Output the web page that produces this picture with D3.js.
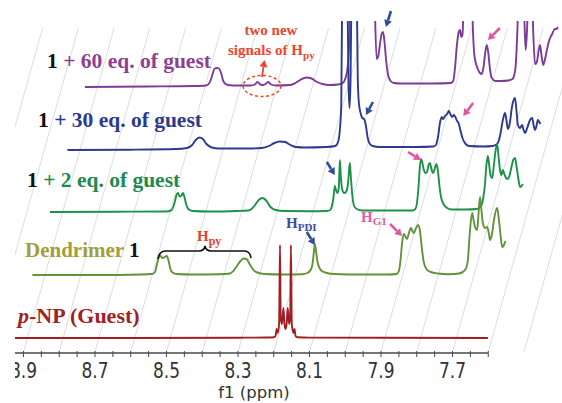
<!DOCTYPE html>
<html><head><meta charset="utf-8">
<script src="https://cdn.jsdelivr.net/npm/d3@7"></script>
<style>body{margin:0;background:#fff}svg{display:block}</style>
</head><body>
<svg id="c" width="562" height="403"></svg>
<script>
// ---------------- DATA ----------------
const tickValues = [8.9, 8.7, 8.5, 8.3, 8.1, 7.9, 7.7];
const tickLabels = ["8.9", "8.7", "8.5", "8.3", "8.1", "7.9", "7.7"];
const axisTitle = "f1 (ppm)";

// spectra: [ppm, intensity]
const specPNP = [[8.924,0],[8.60,0],[8.30,0.3],[8.22,0.5],[8.200,0.8],[8.195,2],[8.192,9],[8.189,5],[8.185,14],[8.1825,93],[8.1805,20],[8.177,14],[8.173,30],[8.170,14],[8.167,9],[8.164,14],[8.161,30],[8.157,14],[8.154,20],[8.152,93],[8.1495,14],[8.145,5],[8.142,9],[8.139,2],[8.134,0.8],[8.10,0.4],[7.90,0.2],[7.601,0]];

const specDend = [[8.924,0],[8.75,0],[8.62,0.5],[8.59,1],[8.581,3],[8.576,10],[8.571,17],[8.567,20],[8.563,18],[8.559,17],[8.554,18],[8.548,19],[8.543,14],[8.538,6],[8.532,2.5],[8.52,1],[8.48,0.5],[8.40,0.8],[8.371,1.5],[8.362,4],[8.352,9],[8.342,14],[8.333,16.5],[8.325,16],[8.318,12],[8.308,6],[8.295,2.5],[8.275,1],[8.22,0.5],[8.17,0.8],[8.155,2],[8.146,5],[8.141,10],[8.137,22],[8.134,31],[8.131,25],[8.127,14],[8.121,7],[8.112,3.5],[8.10,2],[8.08,1],[8.0,0.5],[7.93,0.5],[7.905,1],[7.899,4],[7.894,16],[7.890,32],[7.885,41],[7.880,38],[7.876,36],[7.871,42],[7.865,47],[7.861,44],[7.857,42],[7.851,47],[7.845,50],[7.840,44],[7.835,28],[7.830,14],[7.822,6],[7.810,3],[7.79,1.5],[7.76,0.8],[7.73,1.5],[7.712,6],[7.706,15],[7.700,45],[7.694,62],[7.690,55],[7.686,48],[7.680,45],[7.676,62],[7.672,78],[7.668,65],[7.664,52],[7.658,47],[7.652,48],[7.647,41],[7.644,35],[7.638,42],[7.633,55],[7.624,67],[7.619,55],[7.614,38],[7.610,28],[7.605,30],[7.601,34]];

const spec2eq = [[8.924,0],[8.75,0.3],[8.60,0.5],[8.585,1.5],[8.579,5],[8.574,11],[8.570,17],[8.566,19],[8.562,16],[8.559,15.5],[8.555,17],[8.552,19],[8.547,14],[8.543,8],[8.537,3],[8.525,1],[8.48,0.5],[8.40,1],[8.370,1.5],[8.360,3],[8.350,7],[8.340,12],[8.329,14],[8.318,11],[8.307,5],[8.292,2],[8.27,1],[8.20,0.8],[8.15,1],[8.140,2],[8.135,6],[8.131,14],[8.127,26],[8.124,22],[8.120,19],[8.116,24],[8.113,52],[8.110,34],[8.106,22],[8.101,19],[8.096,20],[8.091,26],[8.088,38],[8.085,49],[8.082,34],[8.078,16],[8.073,6],[8.066,3],[8.05,1.5],[7.95,1.5],[7.91,1.5],[7.902,3],[7.897,10],[7.893,25],[7.889,46],[7.886,53],[7.882,49],[7.878,42],[7.873,39],[7.869,40],[7.865,47],[7.861,49],[7.857,43],[7.852,39],[7.847,44],[7.843,48],[7.839,42],[7.835,28],[7.830,15],[7.823,8],[7.813,4],[7.80,2.5],[7.76,2.5],[7.73,3],[7.718,6],[7.712,14],[7.707,28],[7.703,47],[7.699,56],[7.695,46],[7.691,36],[7.687,34],[7.683,44],[7.678,60],[7.673,68],[7.669,55],[7.665,42],[7.661,37],[7.657,42],[7.653,38],[7.648,34],[7.643,33],[7.638,37],[7.633,45],[7.628,52],[7.623,54],[7.619,46],[7.614,34],[7.609,25],[7.605,26],[7.601,28]];

const spec30eq = [[8.924,0],[8.75,0.3],[8.62,1],[8.59,2],[8.575,5],[8.565,10],[8.555,12.5],[8.545,11],[8.535,6],[8.52,2.5],[8.50,1.5],[8.42,1.5],[8.38,2],[8.36,4],[8.345,7],[8.33,8.5],[8.315,8],[8.30,5],[8.285,3],[8.26,2.5],[8.20,3],[8.175,4],[8.167,8],[8.162,20],[8.158,45],[8.155,170],[8.150,200],[8.145,200],[8.141,170],[8.138,70],[8.135,42],[8.132,70],[8.129,170],[8.124,200],[8.120,200],[8.115,170],[8.112,75],[8.109,48],[8.104,37],[8.099,32],[8.094,31],[8.089,24],[8.084,12],[8.078,6],[8.07,4],[8.05,3],[7.95,3],[7.90,3.5],[7.893,5],[7.887,14],[7.882,27],[7.877,33],[7.873,31],[7.868,34],[7.862,36],[7.857,39],[7.853,36],[7.848,33],[7.843,35],[7.839,33],[7.834,29],[7.830,27],[7.825,20],[7.818,11],[7.810,6],[7.80,4],[7.76,3.5],[7.735,4],[7.722,6],[7.714,14],[7.706,30],[7.700,37],[7.696,30],[7.692,21],[7.687,26],[7.681,42],[7.676,50],[7.672,52],[7.668,40],[7.664,25],[7.658,22],[7.652,25],[7.648,20],[7.644,17],[7.638,22],[7.630,30],[7.624,32],[7.620,25],[7.616,20],[7.612,24],[7.608,30],[7.604,28],[7.601,26]];

const spec60eq = [[8.924,0],[8.75,0.5],[8.62,1],[8.585,1.5],[8.578,3],[8.572,7],[8.566,14],[8.561,18.5],[8.555,19],[8.549,18.5],[8.543,14],[8.537,6],[8.528,2.5],[8.51,1.5],[8.46,1.5],[8.449,2.5],[8.441,5],[8.433,2.5],[8.426,2],[8.419,3],[8.411,5],[8.403,2.5],[8.39,1.5],[8.35,2],[8.335,4],[8.32,7.5],[8.305,9.5],[8.29,8.5],[8.275,5],[8.26,3],[8.24,2],[8.215,2.5],[8.203,4],[8.195,9],[8.189,20],[8.184,50],[8.178,160],[8.170,220],[8.15,230],[8.13,220],[8.118,170],[8.113,80],[8.108,28],[8.104,30],[8.099,42],[8.094,53],[8.090,55],[8.086,45],[8.081,25],[8.076,12],[8.069,6],[8.06,4],[8.04,3.5],[7.95,3.5],[7.90,4],[7.894,6],[7.889,18],[7.884,40],[7.879,54],[7.875,57],[7.871,50],[7.868,52],[7.864,90],[7.860,130],[7.850,140],[7.843,110],[7.839,60],[7.834,30],[7.825,18],[7.819,14],[7.814,13],[7.809,20],[7.804,35],[7.800,42],[7.796,35],[7.791,18],[7.786,9],[7.776,6],[7.76,6],[7.74,6.5],[7.728,8],[7.720,18],[7.714,60],[7.709,120],[7.700,120],[7.695,70],[7.691,37],[7.687,60],[7.682,120],[7.675,120],[7.670,55],[7.665,23],[7.660,25],[7.655,36],[7.651,42],[7.647,32],[7.642,22],[7.637,28],[7.630,40],[7.624,48],[7.617,53],[7.610,58],[7.605,58],[7.601,60]];

const spectra = [specPNP, specDend, spec2eq, spec30eq, spec60eq];
const lineColors = ["#a11f22", "#62923a", "#1c9148", "#2d3a90", "#7d3b98"];

// arrows: [series index, ppm of tip, intensity of tip, tail dx, tail dy]
const blueArrows = [[4, 8.082, 60, 5, -16], [3, 8.089, 35, 7, -13], [2, 8.127, 37, -8, -13], [1, 8.134, 30, -8, -13]];
const pinkArrows = [[4, 7.797, 47, 12, -12], [3, 7.817, 34, 10, -13], [2, 7.886, 52, -13, -8], [1, 7.890, 39, -12, -12]];

// ---------------- LAYOUT ----------------
const svg = d3.select("#c");
const W = 562, H = 403;
const xScale = d3.scaleLinear().domain([8.924, 7.601]).range([14.9, 487.9]);
const yScale = d3.scaleLinear().domain([0, 100]).range([0, 100]);
const DX = 17.5, baselines = [338, 275, 212, 150, 87];
const axisY = 353, topY = 21;
const slope = DX / 62.75;

const defs = svg.append("defs");
defs.append("clipPath").attr("id", "plotclip").append("rect").attr("x", 15).attr("y", topY).attr("width", W - 15).attr("height", H - topY);
defs.append("clipPath").attr("id", "gridclip").append("rect").attr("x", 15).attr("y", 26).attr("width", W - 15).attr("height", axisY - 26);
defs.append("clipPath").attr("id", "labclip").append("rect").attr("x", 15).attr("y", 0).attr("width", W).attr("height", H);

// slanted stacking grid lines
const gridPpm = d3.range(0, 17).map(k => 9.1 - k * 0.1);
svg.append("g").attr("clip-path", "url(#gridclip)")
  .selectAll("line").data(gridPpm).join("line")
  .attr("x1", d => xScale(d)).attr("y1", axisY - 1)
  .attr("x2", d => xScale(d) + (axisY - 28) * slope).attr("y2", 28)
  .attr("stroke", "#d9d9d9").attr("stroke-width", 0.9);

// spectra
const gSpec = svg.append("g").attr("clip-path", "url(#plotclip)");
for (let i = spectra.length - 1; i >= 0; i--) {
  const line = d3.line()
    .x(d => xScale(d[0]) + i * DX)
    .y(d => baselines[i] - yScale(d[1]))
    .curve(d3.curveMonotoneX);
  gSpec.append("path").datum(spectra[i]).attr("d", line)
    .attr("fill", "none").attr("stroke", lineColors[i])
    .attr("stroke-width", 1.9).attr("stroke-linejoin", "round");
}

// axis
const minor = d3.range(0, 27).map(k => +(8.9 - k * 0.05).toFixed(2));
const gAx = svg.append("g").attr("transform", `translate(0,${axisY})`);
gAx.append("line").attr("x1", xScale(8.924)).attr("x2", xScale(7.601)).attr("stroke", "#4a4a4a").attr("stroke-width", 1.4);
gAx.selectAll("line.t").data(minor).join("line").attr("class", "t")
  .attr("x1", d => xScale(d)).attr("x2", d => xScale(d)).attr("y1", -2).attr("y2", 4)
  .attr("stroke", "#4a4a4a").attr("stroke-width", 1);
const gLab = svg.append("g").attr("clip-path", "url(#labclip)");
gLab.selectAll("text").data(tickValues).join("text")
  .attr("transform", d => `translate(${xScale(d)},377.5) scale(1,1.2)`)
  .attr("text-anchor", "middle").attr("font-family", "DejaVu Sans").attr("font-size", 17)
  .attr("fill", "#333").text((d, i) => tickLabels[i]);
svg.append("text").attr("x", 254).attr("y", 397.5).attr("text-anchor", "middle")
  .attr("font-family", "DejaVu Sans").attr("font-size", 16.5).attr("fill", "#333").text(axisTitle);

// series labels
const serif = "Liberation Serif";
function label(x, y, size, parts) {
  const t = svg.append("text").attr("x", x).attr("y", y).attr("font-family", serif)
    .attr("font-weight", "bold").attr("font-size", size);
  parts.forEach(p => {
    const s = t.append("tspan").attr("fill", p[1]).text(p[0]);
    if (p[2]) s.attr("font-style", "italic");
  });
}
label(47, 68, 21.5, [["1", "#111"], [" + 60 eq. of guest", "#8e3f93"]]);
label(38, 127, 21.5, [["1", "#111"], [" + 30 eq. of guest", "#2c3a8e"]]);
label(27, 187, 21.5, [["1", "#111"], [" + 2 eq. of guest", "#1f8a50"]]);
label(25, 257, 21, [["Dendrimer", "#a29e3c"], [" 1", "#111"]]);
label(18, 323, 22, [["p", "#a02124", true], ["-NP (Guest)", "#a02124"]]);

// annotation helpers
function arrow(x1, y1, x2, y2, color, w) {
  const a = Math.atan2(y2 - y1, x2 - x1), hl = 7, hw = 4;
  const bx = x2 - hl * Math.cos(a), by = y2 - hl * Math.sin(a);
  svg.append("line").attr("x1", x1).attr("y1", y1).attr("x2", bx).attr("y2", by)
    .attr("stroke", color).attr("stroke-width", w);
  svg.append("path").attr("d", `M${x2},${y2}L${bx + hw * Math.sin(a)},${by - hw * Math.cos(a)}L${bx - hw * Math.sin(a)},${by + hw * Math.cos(a)}Z`)
    .attr("fill", color);
}
function tip(a) { return [xScale(a[1]) + a[0] * DX, baselines[a[0]] - yScale(a[2])]; }
blueArrows.forEach(a => { const [x, y] = tip(a); arrow(x + a[3], y + a[4], x, y, "#2f4c9e", 2.6); });
pinkArrows.forEach(a => { const [x, y] = tip(a); arrow(x + a[3], y + a[4], x, y, "#e4559c", 2.6); });

function subLabel(x, y, main, sub, color, s1, s2, dy) {
  svg.append("text").attr("x", x).attr("y", y).attr("font-family", serif).attr("font-weight", "bold")
    .attr("font-size", s1).attr("fill", color)
    .call(t => { t.append("tspan").text(main); t.append("tspan").attr("font-size", s2).attr("dy", dy).text(sub); });
}
subLabel(197, 241, "H", "py", "#e4422e", 15, 12, 4);
subLabel(286, 228, "H", "PDI", "#3b4ba0", 15, 11, 3);
subLabel(361, 222, "H", "G1", "#e05aa0", 15, 11, 3);

// brace for H_py
svg.append("path").attr("d", "M158,259 Q159,251 166,251 L199,251 Q204,251 205,246 Q206,251 211,251 L244,251 Q250,251 251,258")
  .attr("fill", "none").attr("stroke", "#111").attr("stroke-width", 1.6);

// two new signals annotation
svg.append("text").attr("x", 271).attr("y", 35).attr("text-anchor", "middle").attr("font-family", serif)
  .attr("font-weight", "bold").attr("font-size", 15).attr("fill", "#e8472c").text("two new");
svg.append("text").attr("x", 228).attr("y", 55).attr("font-family", serif)
  .attr("font-weight", "bold").attr("font-size", 15).attr("fill", "#e8472c")
  .call(t => { t.append("tspan").text("signals of H"); t.append("tspan").attr("font-size", 11).attr("dy", 4).text("py"); });
svg.append("ellipse").attr("cx", 262).attr("cy", 86).attr("rx", 19).attr("ry", 10.5)
  .attr("fill", "none").attr("stroke", "#e8472c").attr("stroke-width", 1.5).attr("stroke-dasharray", "3,2.5");
arrow(262, 77, 264.5, 60, "#e8472c", 1.8);
</script>
</body></html>
